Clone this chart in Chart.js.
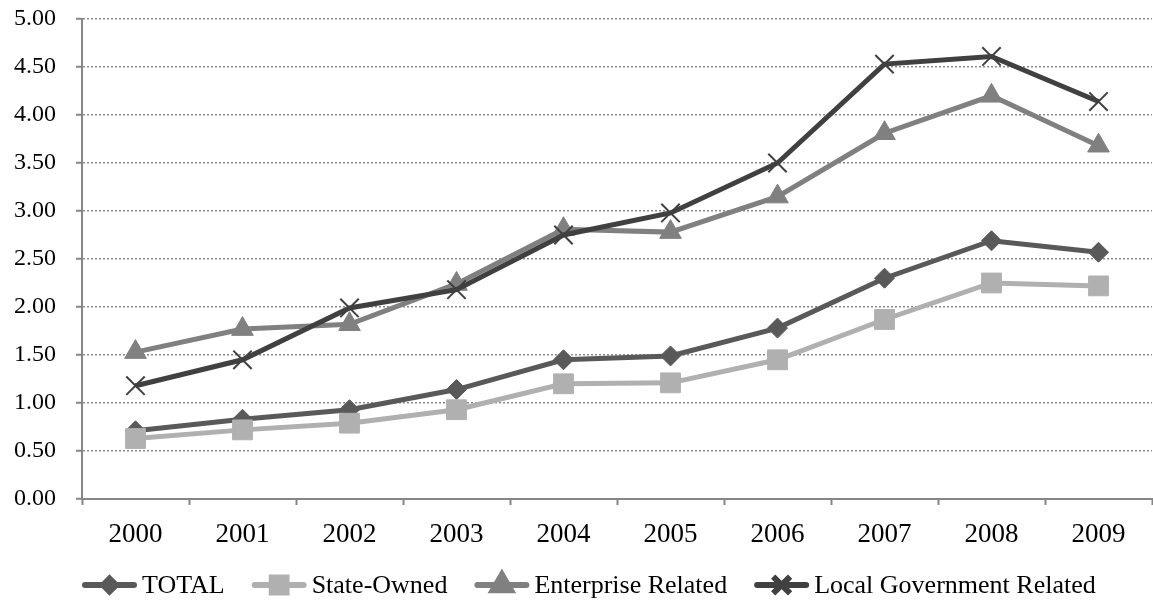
<!DOCTYPE html>
<html>
<head>
<meta charset="utf-8">
<script src="https://cdn.jsdelivr.net/npm/chart.js@4/dist/chart.umd.min.js"></script>
<style>
  html, body { margin: 0; padding: 0; background: #ffffff; }
  #wrap { width: 1153px; height: 608px; position: relative; }
</style>
</head>
<body>
<div id="wrap"><canvas id="c" width="1153" height="608"></canvas></div>
<script>
const categories = ['2000','2001','2002','2003','2004','2005','2006','2007','2008','2009'];
const totalValues      = [0.71, 0.83, 0.93, 1.14, 1.45, 1.49, 1.78, 2.30, 2.69, 2.57];
const stateOwned       = [0.63, 0.72, 0.79, 0.93, 1.20, 1.21, 1.45, 1.87, 2.25, 2.22];
const enterpriseRel    = [1.53, 1.77, 1.82, 2.24, 2.81, 2.78, 3.15, 3.81, 4.20, 3.68];
const localGovRel      = [1.18, 1.45, 1.99, 2.18, 2.75, 2.98, 3.50, 4.53, 4.61, 4.14];
const seriesNames = ['TOTAL', 'State-Owned', 'Enterprise Related', 'Local Government Related'];
const yTickValues = [0, 0.5, 1, 1.5, 2, 2.5, 3, 3.5, 4, 4.5, 5];

const FONT = '"Liberation Serif", "Times New Roman", serif';
const AXIS = '#868686';

const styles = [
  { color: '#595959', pointStyle: 'rectRot', radius: 10, borderWidth: 1, order: 3, legendRadius: 6.5 },
  { color: '#b0b0b0', pointStyle: 'rect', radius: 14, borderWidth: 1, order: 2, legendRadius: 10.5 },
  { color: '#808080', pointStyle: 'triangle', radius: 12.5, borderWidth: 1, order: 1, legendRadius: 10.5 },
  { color: '#404040', pointStyle: 'crossRot', radius: 13, borderWidth: 2, order: 0, legendRadius: 12 }
];
const seriesData = [totalValues, stateOwned, enterpriseRel, localGovRel];

const datasets = seriesData.map((d, i) => ({
  label: seriesNames[i],
  data: d,
  borderColor: styles[i].color,
  backgroundColor: styles[i].color,
  borderWidth: 5,
  pointStyle: styles[i].pointStyle,
  pointRadius: styles[i].radius,
  pointHoverRadius: styles[i].radius,
  pointBorderWidth: styles[i].borderWidth,
  pointBorderColor: styles[i].color,
  pointBackgroundColor: styles[i].color,
  tension: 0,
  order: styles[i].order,
  clip: false
}));

const legendPlugin = {
  id: 'customLegend',
  afterDraw(chart) {
    const ctx = chart.ctx;
    ctx.save();
    ctx.font = '26px ' + FONT;
    const lineLen = 55, textGap = 5, itemGap = 27;
    let x = 82;
    const y = 585;
    seriesNames.forEach((name, i) => {
      const st = styles[i];
      const w = ctx.measureText(name).width;
      ctx.strokeStyle = st.color;
      ctx.lineWidth = 6;
      ctx.lineCap = 'round';
      ctx.beginPath();
      ctx.moveTo(x + 3, y);
      ctx.lineTo(x + lineLen - 3, y);
      ctx.stroke();
      ctx.fillStyle = st.color;
      ctx.strokeStyle = st.color;
      ctx.lineCap = 'butt';
      Chart.helpers.drawPoint(ctx, {
        pointStyle: st.pointStyle,
        radius: st.legendRadius,
        rotation: 0,
        borderWidth: st.borderWidth
      }, x + lineLen / 2, y);
      ctx.fillStyle = '#000000';
      ctx.textBaseline = 'middle';
      ctx.textAlign = 'left';
      ctx.fillText(name, x + lineLen + textGap, y + 1);
      x += lineLen + textGap + w + itemGap;
    });
    ctx.restore();
  }
};

new Chart(document.getElementById('c'), {
  type: 'line',
  data: { labels: categories, datasets },
  options: {
    responsive: false,
    animation: false,
    devicePixelRatio: 1,
    layout: { autoPadding: false, padding: { top: 19, right: 1, bottom: 0, left: 0 } },
    plugins: { legend: { display: false }, tooltip: { enabled: false } },
    scales: {
      x: {
        offset: true,
        grid: {
          display: true,
          drawOnChartArea: false,
          drawTicks: true,
          tickLength: 6,
          tickColor: AXIS,
          tickWidth: 2,
          offset: true
        },
        border: { display: true, color: AXIS, width: 2 },
        ticks: {
          color: '#000000',
          font: { family: FONT, size: 27 },
          padding: 14,
          maxRotation: 0,
          autoSkip: false
        },
        afterFit(scale) {
          scale.height = 109;
          scale.paddingLeft = 0;
          scale.paddingRight = 0;
        }
      },
      y: {
        min: 0,
        max: 5,
        afterBuildTicks(scale) { scale.ticks = yTickValues.map(v => ({ value: v })); },
        grid: {
          color: '#8a8a8a',
          lineWidth: 1.5,
          drawTicks: true,
          tickLength: 6,
          tickColor: AXIS,
          tickWidth: 2,
          tickBorderDash: []
        },
        border: { display: true, color: AXIS, width: 2, dash: [2, 2] },
        ticks: {
          color: '#000000',
          font: { family: FONT, size: 24 },
          padding: 20,
          callback: v => Number(v).toFixed(2)
        },
        afterFit(scale) {
          scale.width = 82;
          scale.paddingTop = 0;
          scale.paddingBottom = 0;
        }
      }
    }
  },
  plugins: [legendPlugin]
});
</script>
</body>
</html>
